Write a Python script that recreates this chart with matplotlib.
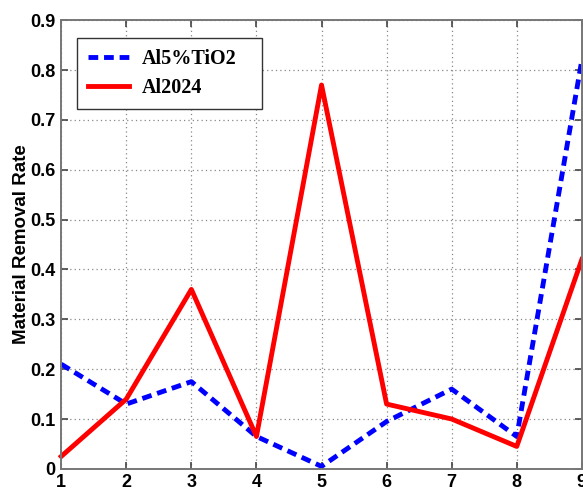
import matplotlib.pyplot as plt

# datos
ensayos = [1, 2, 3, 4, 5, 6, 7, 8, 9]
al5_tio2 = [0.21, 0.13, 0.175, 0.065, 0.005, 0.095, 0.16, 0.065, 0.82]
al2024 = [0.025, 0.14, 0.36, 0.065, 0.77, 0.13, 0.10, 0.045, 0.42]
yticks = [0, 0.1, 0.2, 0.3, 0.4, 0.5, 0.6, 0.7, 0.8, 0.9]
ytick_labels = ['0', '0.1', '0.2', '0.3', '0.4', '0.5', '0.6', '0.7', '0.8', '0.9']

fig = plt.figure(figsize=(5.83, 4.92), dpi=100)
ax = fig.add_axes([0.105, 0.047, 0.893, 0.912])

ax.plot(ensayos, al5_tio2, color='#0000ff', linestyle=(0, (2.0, 1.2)), linewidth=3.5,
        label='Al5%TiO2', clip_on=False)
ax.plot(ensayos, al2024, color='#ff0000', linestyle='-', linewidth=3.5,
        label='Al2024', clip_on=False)

ax.set_xlim(1, 9)
ax.set_ylim(0, 0.9)
ax.set_xticks(ensayos)
ax.set_yticks(yticks)
ax.set_yticklabels(ytick_labels)
ax.grid(True, linestyle=(0, (1, 2.5)), color='#888888', linewidth=0.9)
ax.tick_params(direction='in', length=5, width=1.2, color='#444444',
               top=True, right=True, labelsize=13, pad=4)
for lbl in ax.get_xticklabels() + ax.get_yticklabels():
    lbl.set_fontweight('bold')
    lbl.set_fontfamily('Liberation Sans')
for s in ax.spines.values():
    s.set_color('#777777')
    s.set_linewidth(1.4)

ax.set_ylabel('Material Removal Rate', fontsize=13.5, fontweight='bold',
              fontfamily='Liberation Sans', labelpad=0)

# caja de leyenda mas ancha que el texto, como en la figura original
leg = ax.legend(loc='upper left', bbox_to_anchor=(0.031, 0.80, 0.355, 0.16),
                mode='expand', borderaxespad=0,
                fancybox=False, framealpha=1, edgecolor='#333333',
                handlelength=2.0, handletextpad=0.65,
                prop={'family': 'Liberation Serif', 'weight': 'bold', 'size': 14.5},
                borderpad=0.55, labelspacing=0.45)
leg.get_frame().set_linewidth(1.0)

plt.savefig('out.png', dpi=100)
